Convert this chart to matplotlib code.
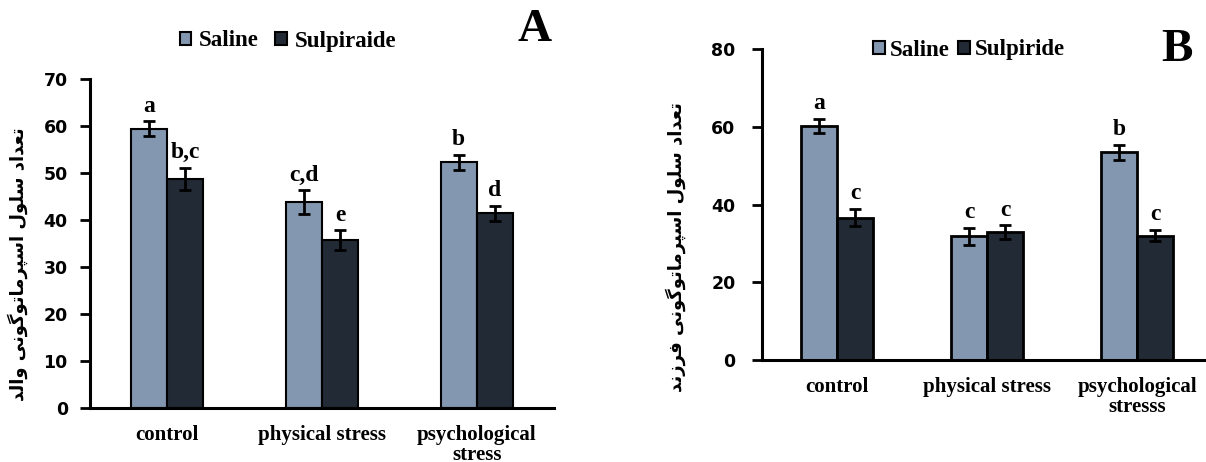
import numpy as np
import matplotlib.pyplot as plt
from matplotlib.patches import Patch

# data
groups_a = ['control', 'physical stress', 'psychological\nstress']
groups_b = ['control', 'physical stress', 'psychological\nstresss']

a_saline = [59.4, 43.8, 52.3]
a_saline_err = [1.6, 2.5, 1.6]
a_sulp = [48.7, 35.7, 41.4]
a_sulp_err = [2.4, 2.1, 1.6]
a_saline_sig = ['a', 'c,d', 'b']
a_sulp_sig = ['b,c', 'e', 'd']

b_saline = [60.2, 31.8, 53.4]
b_saline_err = [1.8, 2.1, 1.9]
b_sulp = [36.6, 32.9, 32.0]
b_sulp_err = [2.2, 1.7, 1.4]
b_saline_sig = ['a', 'c', 'b']
b_sulp_sig = ['c', 'c', 'c']

ylabel_a = 'تعداد سلول اسپرماتوگونی والد'
ylabel_b = 'تعداد سلول اسپرماتوگونی فرزند'

C_SAL = '#8497B0'
C_SUL = '#222A35'
SERIF = 'Liberation Serif'

# matplotlib does no arabic shaping, so pick presentation forms by hand
FORMS = {
    'ا': ('\uFE8D', '\uFE8E', None, None),
    'د': ('\uFEA9', '\uFEAA', None, None),
    'ر': ('\uFEAD', '\uFEAE', None, None),
    'ز': ('\uFEAF', '\uFEB0', None, None),
    'و': ('\uFEED', '\uFEEE', None, None),
    'ت': ('\uFE95', '\uFE96', '\uFE97', '\uFE98'),
    'ع': ('\uFEC9', '\uFECA', '\uFECB', '\uFECC'),
    'س': ('\uFEB1', '\uFEB2', '\uFEB3', '\uFEB4'),
    'ل': ('\uFEDD', '\uFEDE', '\uFEDF', '\uFEE0'),
    'پ': ('\uFB56', '\uFB57', '\uFB58', '\uFB59'),
    'م': ('\uFEE1', '\uFEE2', '\uFEE3', '\uFEE4'),
    'گ': ('\uFB92', '\uFB93', '\uFB94', '\uFB95'),
    'ن': ('\uFEE5', '\uFEE6', '\uFEE7', '\uFEE8'),
    'ی': ('\uFBFC', '\uFBFD', '\uFBFE', '\uFBFF'),
    'ف': ('\uFED1', '\uFED2', '\uFED3', '\uFED4'),
}

def shape(s):
    out = []
    for i, ch in enumerate(s):
        f = FORMS.get(ch)
        if f is None:
            out.append(ch)
            continue
        prev = s[i-1] if i > 0 else ''
        nxt = s[i+1] if i + 1 < len(s) else ''
        jp = prev in FORMS and FORMS[prev][2] is not None
        jn = f[2] is not None and nxt in FORMS
        out.append(f[3] if jp and jn else f[1] if jp else f[2] if jn else f[0])
    return ''.join(out)[::-1]


def panel(ax, groups, sal, sal_e, sul, sul_e, sal_sig, sul_sig, width, ylim, yticks,
          lw, ticksize, tickpad):
    x = np.arange(len(groups))
    ax.bar(x - width/2, sal, width, color=C_SAL, edgecolor='black', linewidth=lw, zorder=2)
    ax.bar(x + width/2, sul, width, color=C_SUL, edgecolor='black', linewidth=lw, zorder=2)
    ax.errorbar(x - width/2, sal, yerr=sal_e, fmt='none', ecolor='black', elinewidth=2,
                capsize=4.3, capthick=2, zorder=3)
    ax.errorbar(x + width/2, sul, yerr=sul_e, fmt='none', ecolor='black', elinewidth=2,
                capsize=4.3, capthick=2, zorder=3)
    for xi, v, e, t in zip(x - width/2, sal, sal_e, sal_sig):
        ax.annotate(t, (xi, v + e), xytext=(0, 7), textcoords='offset points', ha='center',
                    va='baseline', fontsize=17, fontweight='bold', family=SERIF)
    for xi, v, e, t in zip(x + width/2, sul, sul_e, sul_sig):
        ax.annotate(t, (xi, v + e), xytext=(0, 7), textcoords='offset points', ha='center',
                    va='baseline', fontsize=17, fontweight='bold', family=SERIF)
    ax.set_xlim(-0.5, 2.5)
    ax.set_ylim(*ylim)
    ax.set_yticks(yticks)
    ax.set_xticks(x)
    ax.set_xticklabels(groups, fontsize=15, fontweight='bold', family=SERIF, linespacing=1.05)
    ax.tick_params(axis='x', length=0, pad=12)
    ax.tick_params(axis='y', direction='out', length=7, width=2, labelsize=ticksize, pad=tickpad)
    for lab in ax.get_yticklabels():
        lab.set_fontweight('bold')
    for s in ['top', 'right']:
        ax.spines[s].set_visible(False)
    for s in ['left', 'bottom']:
        ax.spines[s].set_linewidth(2.2)


W, H = 1206, 462
fig = plt.figure(figsize=(W/100, H/100), dpi=100)

axA = fig.add_axes([90/W, (H-408)/H, (554-90)/W, (408-79)/H])
panel(axA, groups_a, a_saline, a_saline_err, a_sulp, a_sulp_err, a_saline_sig, a_sulp_sig,
      0.232, (0, 70), range(0, 71, 10), 1.5, 12.5, 9)

axB = fig.add_axes([762/W, (H-360)/H, (1212-762)/W, (360-49)/H])
panel(axB, groups_b, b_saline, b_saline_err, b_sulp, b_sulp_err, b_saline_sig, b_sulp_sig,
      0.24, (0, 80), range(0, 81, 20), 2.0, 12.5, 12)

fig.text(18/W, 1 - 264/H, shape(ylabel_a), rotation=90, ha='center', va='center',
         fontsize=13, fontweight='bold', family='DejaVu Sans')
fig.text(676/W, 1 - 247/H, shape(ylabel_b), rotation=90, ha='center', va='center',
         fontsize=13, fontweight='bold', family='DejaVu Sans')

fig.text(535/W, 1 - 30/H, 'A', ha='center', va='center', fontsize=34, fontweight='bold', family=SERIF)
fig.text(1177/W, 1 - 50/H, 'B', ha='center', va='center', fontsize=34, fontweight='bold', family=SERIF)

def handles(names):
    return [Patch(facecolor=C_SAL, edgecolor='black', linewidth=1.5, label=names[0]),
            Patch(facecolor=C_SUL, edgecolor='black', linewidth=1.5, label=names[1])]

leg_font = {'family': SERIF, 'weight': 'bold', 'size': 16.5}
fig.legend(handles=handles(['Saline', 'Sulpiraide']), loc='center', bbox_to_anchor=(288/W, 1 - 41/H),
           ncol=2, frameon=False, prop=leg_font, handlelength=0.5, handleheight=0.5,
           handletextpad=0.35, columnspacing=0.7, borderpad=0)
fig.legend(handles=handles(['Saline', 'Sulpiride']), loc='center', bbox_to_anchor=(969/W, 1 - 50/H),
           ncol=2, frameon=False, prop=leg_font, handlelength=0.5, handleheight=0.5,
           handletextpad=0.2, columnspacing=0.4, borderpad=0)

fig.savefig('out.png', dpi=100)
